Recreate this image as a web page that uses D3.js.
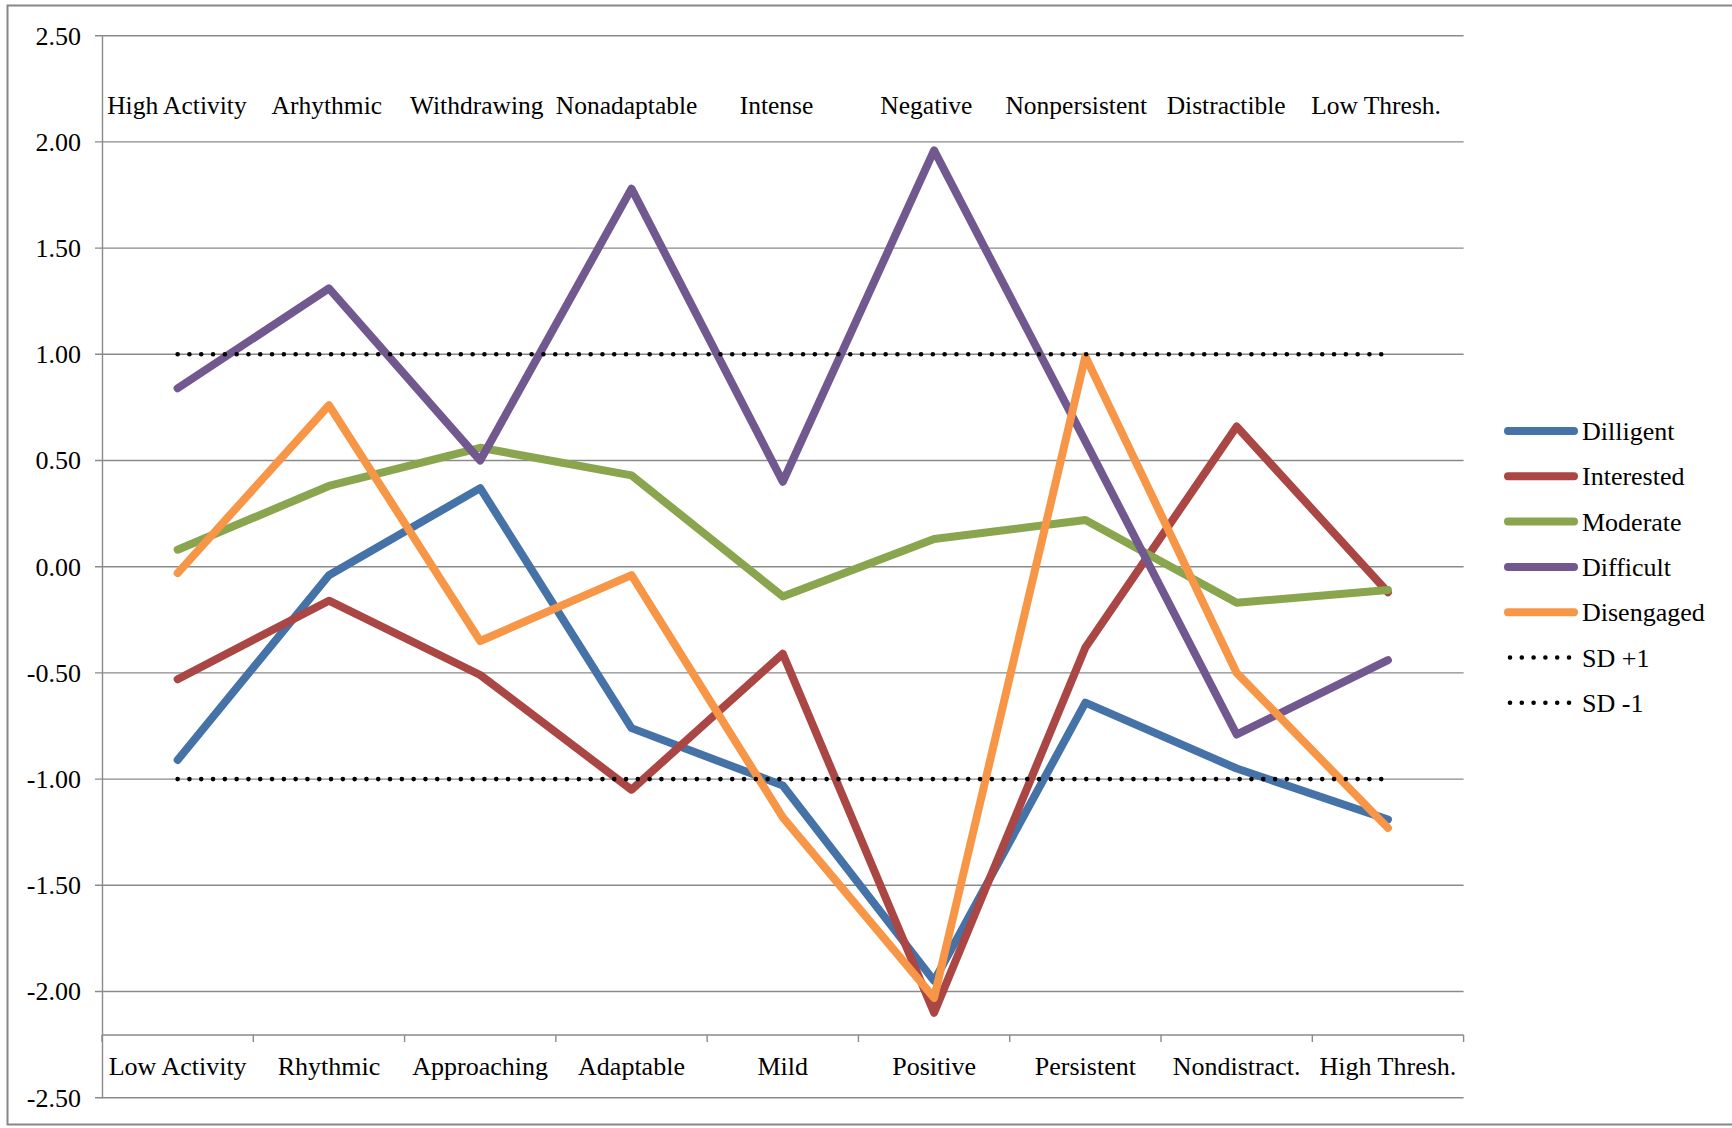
<!DOCTYPE html>
<html>
<head>
<meta charset="utf-8">
<script src="https://cdn.jsdelivr.net/npm/d3@7"></script>
<style>
  body { margin: 0; background: #fff; }
  text { font-family: "Liberation Serif", "Times New Roman", serif; fill: #000; }
</style>
</head>
<body>
<script>
// categories (bottom axis) and their opposites (top labels)
var bottomLabels = ["Low Activity", "Rhythmic", "Approaching", "Adaptable", "Mild", "Positive", "Persistent", "Nondistract.", "High Thresh."];
var topLabels = ["High Activity", "Arhythmic", "Withdrawing", "Nonadaptable", "Intense", "Negative", "Nonpersistent", "Distractible", "Low Thresh."];

var yTicks = [2.5, 2, 1.5, 1, 0.5, 0, -0.5, -1, -1.5, -2, -2.5];

var diligent   = [-0.91, -0.04, 0.37, -0.76, -1.03, -1.95, -0.64, -0.95, -1.19];
var interested = [-0.53, -0.16, -0.51, -1.05, -0.41, -2.10, -0.38, 0.66, -0.12];
var moderate   = [0.08, 0.38, 0.56, 0.43, -0.14, 0.13, 0.22, -0.17, -0.11];
var difficult  = [0.84, 1.31, 0.50, 1.78, 0.40, 1.96, 0.59, -0.79, -0.44];
var disengaged = [-0.03, 0.76, -0.35, -0.04, -1.18, -2.03, 0.99, -0.50, -1.23];
var sdPlus  = [1, 1, 1, 1, 1, 1, 1, 1, 1];
var sdMinus = [-1, -1, -1, -1, -1, -1, -1, -1, -1];

var series = [
  {name: "Dilligent", values: diligent, color: "#4572A7"},
  {name: "Interested", values: interested, color: "#AA4643"},
  {name: "Moderate", values: moderate, color: "#89A54E"},
  {name: "Difficult", values: difficult, color: "#71588F"},
  {name: "Disengaged", values: disengaged, color: "#F79646"},
  {name: "SD +1", values: sdPlus, color: "#000", dotted: true},
  {name: "SD -1", values: sdMinus, color: "#000", dotted: true}
];

var width = 1732, height = 1128;
var plotLeft = 102, plotRight = 1463.6, plotTop = 35.7, plotBottom = 1097.7;
var xAxisY = 1035;

var svg = d3.select("body").append("svg")
  .attr("width", width)
  .attr("height", height);

// outer frame
svg.append("rect")
  .attr("x", 7.5).attr("y", 5.5)
  .attr("width", 1740).attr("height", 1119)
  .attr("fill", "none")
  .attr("stroke", "#878787")
  .attr("stroke-width", 2);

var x = d3.scaleBand()
  .domain(bottomLabels)
  .range([plotLeft, plotRight]);

// the top labels sit on a slightly narrower secondary axis
var xTop = d3.scaleBand()
  .domain(topLabels)
  .range([plotLeft, 1451]);

var y = d3.scaleLinear()
  .domain([-2.5, 2.5])
  .range([plotBottom, plotTop]);

var cx = function(i) { return x(bottomLabels[i]) + x.bandwidth() / 2; };

// gridlines
svg.append("g").selectAll("line")
  .data(yTicks)
  .enter().append("line")
    .attr("x1", plotLeft - 7).attr("x2", plotRight)
    .attr("y1", function(d) { return y(d); })
    .attr("y2", function(d) { return y(d); })
    .attr("stroke", "#8a8a8a")
    .attr("stroke-width", 1.4);

// value axis
var yAxis = d3.axisLeft(y)
  .tickValues(yTicks)
  .tickSize(0)
  .tickPadding(21)
  .tickFormat(function(d) { return d3.format(".2f")(d).replace("\u2212", "-"); });

var ya = svg.append("g")
  .attr("transform", "translate(" + plotLeft + ",0)")
  .call(yAxis);
ya.select(".domain").attr("stroke", "#8a8a8a").attr("stroke-width", 1.4);
ya.selectAll("text")
  .style("font-size", "26px")
  .style("font-family", "'Liberation Serif', 'Times New Roman', serif");

// category axis, ticks at category boundaries
var cat = svg.append("g");
cat.append("line")
  .attr("x1", plotLeft).attr("x2", plotRight)
  .attr("y1", xAxisY).attr("y2", xAxisY)
  .attr("stroke", "#8a8a8a").attr("stroke-width", 1.4);
cat.selectAll(".tk")
  .data(d3.range(bottomLabels.length + 1))
  .enter().append("line")
    .attr("x1", function(i) { return plotLeft + i * x.step(); })
    .attr("x2", function(i) { return plotLeft + i * x.step(); })
    .attr("y1", xAxisY).attr("y2", xAxisY + 7)
    .attr("stroke", "#8a8a8a").attr("stroke-width", 1.4);

cat.selectAll(".bl")
  .data(bottomLabels)
  .enter().append("text")
    .attr("x", function(d, i) { return cx(i); })
    .attr("y", 1075)
    .attr("text-anchor", "middle")
    .style("font-size", "26px")
    .text(function(d) { return d; });

svg.append("g").selectAll("text")
  .data(topLabels)
  .enter().append("text")
    .attr("x", function(d) { return xTop(d) + xTop.bandwidth() / 2; })
    .attr("y", 114)
    .attr("text-anchor", "middle")
    .style("font-size", "25.5px")
    .text(function(d) { return d; });

// series lines
var line = d3.line()
  .x(function(d, i) { return cx(i); })
  .y(function(d) { return y(d); });

svg.append("g").selectAll("path")
  .data(series)
  .enter().append("path")
    .attr("d", function(s) { return line(s.values); })
    .attr("fill", "none")
    .attr("stroke", function(s) { return s.color; })
    .attr("stroke-width", function(s) { return s.dotted ? 4.6 : 8; })
    .attr("stroke-linecap", "round")
    .attr("stroke-linejoin", "round")
    .attr("stroke-dasharray", function(s) { return s.dotted ? "0 11.8" : null; });

// legend
var legend = svg.append("g").selectAll("g")
  .data(series)
  .enter().append("g")
    .attr("transform", function(d, i) { return "translate(1508," + (431 + i * 45.3) + ")"; });

legend.append("line")
  .attr("x1", function(s) { return s.dotted ? 2 : 0; })
  .attr("x2", function(s) { return s.dotted ? 62 : 66; })
  .attr("stroke", function(s) { return s.color; })
  .attr("stroke-width", function(s) { return s.dotted ? 4.6 : 8; })
  .attr("stroke-linecap", "round")
  .attr("stroke-dasharray", function(s) { return s.dotted ? "0 11.8" : null; });

legend.append("text")
  .attr("x", 74)
  .attr("y", 9)
  .style("font-size", "26px")
  .text(function(s) { return s.name; });
</script>
</body>
</html>
